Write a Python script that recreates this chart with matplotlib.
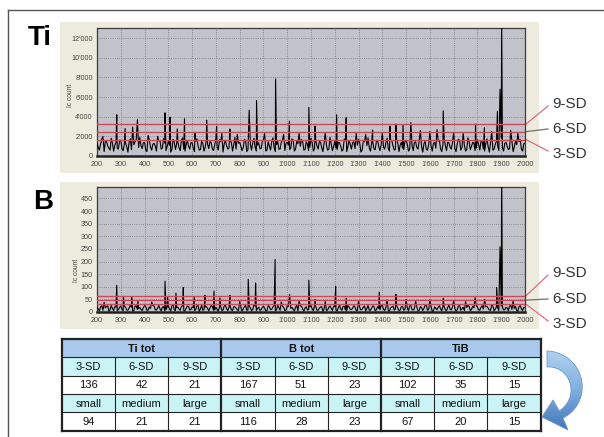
import numpy as np
import matplotlib
matplotlib.use("Agg")
import matplotlib.pyplot as plt
from matplotlib.patches import Rectangle, Polygon
from matplotlib.colors import LinearSegmentedColormap
from matplotlib.ticker import FuncFormatter, MultipleLocator

plt.rcParams['font.family'] = ['Liberation Sans', 'DejaVu Sans']

# ---------------- data ----------------
# baseline samples at 200, 210, ..., 2000 (list A) and 205, 215, ..., 1995 (list B)
ti_baseline = [
    1300, 600, 1700, 450, 1500, 800, 1800, 500, 1400, 700,
    1600, 550, 1350, 400, 1750, 650, 1450, 500, 1900, 750,
    1400, 450, 1650, 600, 1300, 500, 1550, 700, 1800, 550,
    1500, 400, 1700, 650, 1450, 550, 1850, 500, 1600, 700,
    1350, 450, 1750, 600, 1500, 500, 1650, 750, 1400, 550,
    1800, 600, 1450, 400, 1600, 700, 1500, 500, 1900, 650,
    1400, 550, 1700, 450, 1550, 600, 1800, 500, 1350, 750,
    1650, 500, 1450, 600, 1850, 450, 1500, 700, 1600, 550,
    1400, 650, 1750, 500, 1500, 400, 1700, 600, 1450, 550,
    1800, 500, 1550, 700, 1400, 450, 1650, 600, 1900, 550,
    1500, 650, 1350, 500, 1750, 450, 1600, 700, 1450, 550,
    1700, 400, 1500, 600, 1850, 500, 1400, 650, 1600, 550,
    1450, 700, 1800, 500, 1550, 600, 1700, 450, 1400, 650,
    1600, 500, 1900, 550, 1450, 700, 1650, 400, 1500, 600,
    1750, 500, 1400, 650, 1600, 450, 1800, 550, 1350, 700,
    1550, 450, 1700, 600, 1500, 500, 1850, 650, 1400, 550,
    1650, 600, 1450, 500, 1750, 400, 1600, 700, 1500, 550,
    1800, 500, 1400, 650, 1700, 450, 1550, 600, 1650, 500,
    1300]
ti_baseline_mid = [
    900, 1200, 700, 1500, 1000, 600, 1300, 1100, 800, 1600,
    750, 1250, 950, 1400, 650, 1150, 1700, 850, 1050, 1350,
    600, 1450, 900, 1200, 1000, 700, 1550, 800, 1300, 950,
    1100, 650, 1400, 1250, 850, 1600, 700, 1150, 1000, 1350,
    800, 1500, 1050, 650, 1300, 900, 1200, 1450, 750, 1100,
    950, 1650, 600, 1250, 1050, 800, 1400, 1150, 700, 1300,
    1000, 850, 1550, 650, 1200, 1350, 900, 1100, 750, 1450,
    1250, 600, 1000, 1500, 850, 1150, 700, 1400, 950, 1300,
    1100, 800, 1600, 700, 1250, 1000, 1450, 650, 1200, 900,
    1350, 750, 1050, 1500, 850, 1300, 1100, 700, 1250, 950,
    800, 1400, 1000, 650, 1550, 900, 1200, 1350, 750, 1100,
    1300, 600, 1450, 1050, 850, 1250, 700, 1500, 950, 1150,
    900, 1350, 750, 1600, 1000, 650, 1300, 1100, 800, 1450,
    1200, 700, 1050, 1400, 850, 1550, 950, 1250, 650, 1150,
    1000, 1300, 800, 1500, 700, 1200, 1050, 1400, 900, 1350,
    750, 1250, 1600, 850, 1100, 650, 1450, 1000, 1300, 800,
    1150, 1500, 700, 1250, 950, 1350, 600, 1200, 1050, 1400,
    850, 1300, 1000, 750, 1550, 900, 1150, 1450, 700, 1250]
ti_spike_pos = [225, 283, 318, 350, 370, 415, 455, 486, 507, 538, 568, 612, 661,
                703, 725, 759, 790, 840, 871, 905, 951, 985, 1009, 1050, 1091,
                1117, 1160, 1208, 1248, 1290, 1330, 1359, 1400, 1432, 1457, 1487,
                1520, 1560, 1600, 1630, 1656, 1700, 1740, 1792, 1829, 1860, 1884,
                1895, 1902, 1940, 1970]
ti_spike_val = [2000, 4200, 2800, 2950, 3700, 2100, 2000, 4400, 3950, 2750, 3800,
                2400, 3650, 3000, 2300, 2750, 2200, 4650, 5650, 2300, 7850, 2200,
                3550, 2300, 4950, 3050, 2400, 4200, 3900, 2300, 2200, 2650, 2400,
                3050, 3250, 3200, 3400, 2600, 2500, 2700, 4600, 2400, 2300, 3250,
                2900, 2500, 4550, 6800, 13500, 2600, 2300]
ti_sd_levels = [1670, 2480, 3250]     # 3-SD, 6-SD, 9-SD

b_baseline = [
    18, 5, 25, 8, 22, 4, 26, 6, 20, 9,
    24, 5, 19, 7, 27, 4, 23, 10, 18, 6,
    25, 7, 20, 3, 24, 8, 26, 5, 21, 9,
    22, 4, 28, 6, 19, 7, 25, 5, 23, 8,
    20, 6, 24, 3, 27, 9, 21, 5, 25, 7,
    19, 4, 23, 8, 27, 6, 22, 5, 20, 9,
    26, 4, 21, 7, 24, 5, 28, 6, 19, 8,
    23, 5, 25, 9, 20, 4, 26, 7, 22, 6,
    24, 8, 19, 5, 27, 6, 23, 4, 21, 9,
    25, 5, 22, 7, 20, 3, 26, 8, 24, 6,
    21, 4, 27, 7, 23, 5, 20, 9, 25, 6,
    22, 8, 19, 4, 26, 7, 24, 5, 21, 9,
    27, 6, 23, 4, 20, 8, 25, 5, 22, 7,
    19, 5, 26, 8, 24, 4, 21, 6, 27, 7,
    23, 3, 20, 9, 25, 5, 22, 6, 28, 8,
    21, 4, 24, 7, 19, 6, 26, 5, 23, 9,
    20, 7, 25, 4, 22, 8, 27, 5, 21, 6,
    24, 8, 19, 5, 26, 7, 23, 4, 25, 6,
    18]
b_baseline_mid = [
    12, 20, 7, 16, 24, 9, 14, 21, 5, 18,
    11, 23, 8, 15, 19, 6, 25, 13, 10, 17,
    22, 7, 14, 26, 9, 16, 12, 20, 5, 19,
    13, 24, 8, 17, 11, 21, 6, 15, 23, 10,
    18, 9, 25, 12, 7, 20, 14, 16, 22, 8,
    11, 19, 6, 24, 13, 17, 9, 21, 15, 5,
    20, 12, 26, 8, 16, 10, 23, 14, 7, 18,
    15, 6, 21, 11, 25, 9, 17, 13, 19, 7,
    22, 14, 10, 18, 5, 24, 12, 16, 8, 20,
    13, 25, 7, 15, 21, 11, 6, 19, 14, 23,
    9, 17, 12, 22, 8, 26, 10, 15, 20, 6,
    18, 11, 24, 13, 7, 16, 21, 9, 14, 25,
    10, 19, 6, 17, 23, 12, 15, 8, 22, 11,
    16, 24, 9, 13, 20, 7, 18, 14, 26, 10,
    21, 5, 15, 19, 12, 23, 8, 17, 11, 20,
    14, 9, 25, 13, 6, 18, 22, 10, 16, 24,
    8, 19, 12, 21, 15, 7, 23, 11, 17, 13,
    20, 9, 16, 24, 10, 14, 6, 22, 12, 18]
b_spike_pos = [230, 283, 311, 346, 372, 430, 486, 497, 532, 563, 609, 654, 692,
               717, 759, 800, 836, 867, 949, 975, 1010, 1050, 1091, 1117, 1160,
               1204, 1248, 1300, 1387, 1420, 1457, 1500, 1540, 1600, 1656, 1700,
               1750, 1790, 1830, 1881, 1895, 1902, 1950]
b_spike_val = [38, 106, 62, 58, 45, 40, 122, 60, 75, 97, 60, 66, 83, 56, 66, 42,
               129, 115, 208, 40, 69, 45, 126, 50, 42, 102, 55, 45, 79, 48, 70,
               50, 45, 48, 55, 45, 42, 57, 50, 97, 258, 560, 45]
b_sd_levels = [31, 47, 64]

sd_names = ["3-SD", "6-SD", "9-SD"]
groups = ["Ti tot", "B tot", "TiB"]
size_names = ["small", "medium", "large"]
counts_sd = [[136, 42, 21], [167, 51, 23], [102, 35, 15]]
counts_size = [[94, 21, 21], [116, 28, 23], [67, 20, 15]]

# ---------------- helpers ----------------
W, H = 604, 437
fig = plt.figure(figsize=(W / 100, H / 100), dpi=100)


def series(base_a, base_b, spos, sval):
    d = {200 + i * 10: v for i, v in enumerate(base_a)}
    d.update({205 + i * 10: v for i, v in enumerate(base_b)})
    for p, v in zip(spos, sval):
        d[p] = max(v, d.get(p, 0))
    xs = sorted(d)
    return np.array(xs), np.array([d[k] for k in xs])


def fmt_thousands(v, pos=None):
    v = int(round(v))
    if v >= 1000:
        return f"{v // 1000}'{v % 1000:03d}"
    return str(v)


# overlay in pixel coordinates (y down)
ov = fig.add_axes([0, 0, 1, 1])
ov.set_xlim(0, W)
ov.set_ylim(H, 0)
ov.axis('off')
ov.set_zorder(0)

# outer frame
ov.plot([8, W], [10, 10], color='#555555', lw=1.0)
ov.plot([8, 8], [10, H], color='#555555', lw=1.0)

beige = '#EDEBDD'
panels = [
    dict(name='Ti', bg=(60, 22, 539, 173), ax=(97, 28.3, 525, 156), ylim=(0, 13000),
         ymaj=2000, base=ti_baseline, base2=ti_baseline_mid, sp=ti_spike_pos,
         sv=ti_spike_val, sd=ti_sd_levels, title_xy=(40, 38),
         lab_y=[154, 129, 104], ylab_xy=(70, 95)),
    dict(name='B', bg=(60, 182, 539, 329), ax=(97, 187.3, 525, 312), ylim=(0, 494),
         ymaj=50, base=b_baseline, base2=b_baseline_mid, sp=b_spike_pos,
         sv=b_spike_val, sd=b_sd_levels, title_xy=(43, 202),
         lab_y=[324, 299, 273], ylab_xy=(77, 270)),
]

for P in panels:
    x0, y0, x1, y1 = P['bg']
    ov.add_patch(Rectangle((x0, y0), x1 - x0, y1 - y0, facecolor=beige,
                           edgecolor='none', zorder=0))
    ax0, ay0, ax1, ay1 = P['ax']
    ax = fig.add_axes([ax0 / W, 1 - ay1 / H, (ax1 - ax0) / W, (ay1 - ay0) / H])
    ax.set_zorder(1)
    ax.set_facecolor('#C2C2CA')
    xs, ys = series(P['base'], P['base2'], P['sp'], P['sv'])
    ax.plot(xs, ys, color='black', lw=0.8, zorder=3)
    for lv in P['sd']:
        ax.axhline(lv, color='#D24658', lw=1.0, zorder=4)
    ax.set_xlim(200, 2000)
    ax.set_ylim(*P['ylim'])
    ax.xaxis.set_major_locator(MultipleLocator(100))
    ax.yaxis.set_major_locator(MultipleLocator(P['ymaj']))
    ax.xaxis.set_major_formatter(FuncFormatter(fmt_thousands))
    ax.yaxis.set_major_formatter(FuncFormatter(fmt_thousands))
    ax.tick_params(length=0, labelsize=5.2, colors='#444444', pad=2)
    ax.tick_params(axis='x', pad=3.5)
    ax.tick_params(axis='y', pad=3)
    ax.grid(True, color='#7A7A7A', linestyle=(0, (1, 1.6)), lw=0.6, zorder=1)
    for s in ax.spines.values():
        s.set_color('#3A3A3A')
        s.set_linewidth(0.9)
    ax.spines['bottom'].set_linewidth(1.8)
    ax.spines['bottom'].set_color('#202020')

    ov.text(*P['title_xy'], P['name'], fontsize=20, fontweight='bold',
            ha='center', va='center', color='black')
    ov.text(*P['ylab_xy'], 'Ic count', fontsize=4.8, rotation=90,
            ha='center', va='center', color='#444444')

    lo, hi = P['ylim']
    for lv, ly, nm in zip(P['sd'], P['lab_y'], sd_names):
        py = ay0 + (hi - lv) / (hi - lo) * (ay1 - ay0)
        if nm == '6-SD':
            col, ty = '#707070', ly
        elif nm == '9-SD':
            col, ty = '#D9707E', ly + 2
        else:
            col, ty = '#D9707E', ly - 3
        ov.plot([ax1 + 1, 548], [py, ty], color=col, lw=0.9)
        ov.text(552, ly, nm, fontsize=11, ha='left', va='center', color='#333333')

# ---------------- table ----------------
tx0, tx1 = 61.7, 540.7
row_y = [339, 357.3, 375.6, 393.9, 412.2, 430.5]
ncol = 9
cw = (tx1 - tx0) / ncol
hdr_col = '#A9C9EC'
cyan = '#C9F3F5'
row_fill = [hdr_col, cyan, 'white', cyan, 'white']
for r in range(5):
    ov.add_patch(Rectangle((tx0, row_y[r]), tx1 - tx0, row_y[r + 1] - row_y[r],
                           facecolor=row_fill[r], edgecolor='none', zorder=2))
for y in row_y:
    lw = 1.6 if y in (row_y[0], row_y[-1]) else 0.8
    ov.plot([tx0, tx1], [y, y], color='#222222', lw=lw, zorder=3)
for c in range(ncol + 1):
    x = tx0 + c * cw
    if c % 3 == 0:
        ov.plot([x, x], [row_y[0], row_y[-1]], color='#222222', lw=1.6, zorder=3)
    else:
        ov.plot([x, x], [row_y[1], row_y[-1]], color='#222222', lw=0.8, zorder=3)


def cy(r):
    return (row_y[r] + row_y[r + 1]) / 2 + 0.5


cell_fs = 8.0
for g, gname in enumerate(groups):
    gx = tx0 + (g * 3 + 1.5) * cw
    ov.text(gx, cy(0), gname, fontsize=8.0, fontweight='bold', ha='center',
            va='center', color='#111111', zorder=4)
    for k in range(3):
        cx = tx0 + (g * 3 + k + 0.5) * cw
        ov.text(cx, cy(1), sd_names[k], fontsize=cell_fs, ha='center', va='center',
                color='#111111', zorder=4)
        ov.text(cx, cy(2), str(counts_sd[g][k]), fontsize=cell_fs, ha='center',
                va='center', color='#111111', zorder=4)
        ov.text(cx, cy(3), size_names[k], fontsize=cell_fs, ha='center', va='center',
                color='#111111', zorder=4)
        ov.text(cx, cy(4), str(counts_size[g][k]), fontsize=cell_fs, ha='center',
                va='center', color='#111111', zorder=4)

# ---------------- curved arrow ----------------
ccx, ccy = 547, 388
phis = np.radians(np.linspace(90, -62, 60))
r_out = np.linspace(37, 34, 60)
r_in = np.linspace(21, 26, 60)
outer = np.column_stack([ccx + r_out * np.cos(phis), ccy - r_out * np.sin(phis)])
inner = np.column_stack([ccx + r_in * np.cos(phis), ccy - r_in * np.sin(phis)])
head = np.array([[568, 430], [542, 417], [553, 400]])
shape = np.vstack([outer, head, inner[::-1]])
poly = Polygon(shape, closed=True, facecolor='none', edgecolor='#6D97C8', lw=0.6, zorder=6)
ov.add_patch(poly)
cmap = LinearSegmentedColormap.from_list('arr', ['#B3D3F0', '#7FAEDF', '#3F73B3'])
grad = np.linspace(0, 1, 100).reshape(-1, 1)
im = ov.imshow(grad, cmap=cmap, extent=(538, 592, 433, 348), origin='upper',
               aspect='auto', zorder=5)
im.set_clip_path(poly)
ov.set_xlim(0, W)
ov.set_ylim(H, 0)

fig.savefig('out.png', dpi=100)
